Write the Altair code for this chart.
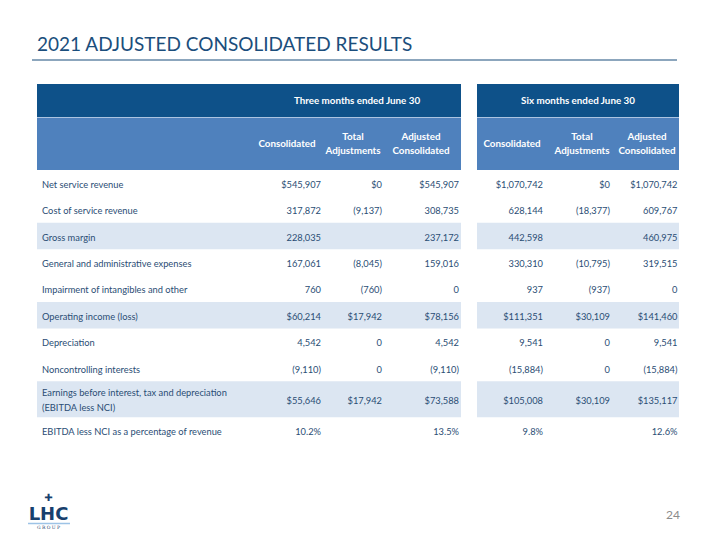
import altair as alt
import pandas as pd

# ---------------- data ----------------
title = "2021 ADJUSTED CONSOLIDATED RESULTS"
group_headers = ["Three months ended June 30", "Six months ended June 30"]
col_headers = ["Consolidated", "Total\nAdjustments", "Adjusted\nConsolidated",
               "Consolidated", "Total\nAdjustments", "Adjusted\nConsolidated"]

row_labels = [
    "Net service revenue",
    "Cost of service revenue",
    "Gross margin",
    "General and administrative expenses",
    "Impairment of intangibles and other",
    "Operating income (loss)",
    "Depreciation",
    "Noncontrolling interests",
    "Earnings before interest, tax and depreciation\n(EBITDA less NCI)",
    "EBITDA less NCI as a percentage of revenue",
]
shaded = [False, False, True, False, False, True, False, False, True, False]

three_consolidated = ["$545,907", "317,872", "228,035", "167,061", "760", "$60,214",
                      "4,542", "(9,110)", "$55,646", "10.2%"]
three_adjustments = ["$0", "(9,137)", "", "(8,045)", "(760)", "$17,942",
                     "0", "0", "$17,942", ""]
three_adjusted = ["$545,907", "308,735", "237,172", "159,016", "0", "$78,156",
                  "4,542", "(9,110)", "$73,588", "13.5%"]
six_consolidated = ["$1,070,742", "628,144", "442,598", "330,310", "937", "$111,351",
                    "9,541", "(15,884)", "$105,008", "9.8%"]
six_adjustments = ["$0", "(18,377)", "", "(10,795)", "(937)", "$30,109",
                   "0", "0", "$30,109", ""]
six_adjusted = ["$1,070,742", "609,767", "460,975", "319,515", "0", "$141,460",
                "9,541", "(15,884)", "$135,117", "12.6%"]

page_number = "24"

# ---------------- layout ----------------
DARK = "#0E5189"
MID = "#4F81BD"
SHADE = "#DCE6F2"
TXT = "#2A4D74"
FONT = "Lato"
BODY_SIZE = 9.3
HEAD_SIZE = 9.8

panels = [(37, 461), (477, 679)]
table_top, h1, h2 = 84, 33, 53
single_h, double_h = 26.4, 36
num_right = [321, 382, 459, 543, 610, 677.5]
head_center = [287, 353, 421, 512, 582, 647]
group_center = [357, 578]
label_x = 42
body_lh, head_lh = 14.5, 13.5

columns = [three_consolidated, three_adjustments, three_adjusted,
           six_consolidated, six_adjustments, six_adjusted]


def block_y(yc, text, lh):
    n = text.count("\n") + 1
    return yc - (n - 1) * lh / 2


# compute row positions
y = table_top + h1 + h2
rows = []
for i, lab in enumerate(row_labels):
    h = double_h if "\n" in lab else single_h
    rows.append(dict(y0=y, y1=y + h, yc=y + h / 2, shade=shaded[i]))
    y += h

rect_recs = []
for (px0, px1) in panels:
    rect_recs.append(dict(x0=px0, x1=px1, y0=table_top, y1=table_top + h1, c=DARK))
    rect_recs.append(dict(x0=px0, x1=px1, y0=table_top + h1 + 0.8, y1=table_top + h1 + h2, c=MID))
    rect_recs.append(dict(x0=px0, x1=px1, y0=table_top + h1, y1=table_top + h1 + 0.8, c="#9FBBDD"))
    for r in rows:
        if r["shade"]:
            rect_recs.append(dict(x0=px0, x1=px1, y0=r["y0"], y1=r["y1"], c=SHADE))
rect_df = pd.DataFrame(rect_recs)

cell_recs = []
for i, r in enumerate(rows):
    cell_recs.append(dict(x=label_x, y=block_y(r["yc"], row_labels[i], body_lh), t=row_labels[i], a="left"))
    for j, col in enumerate(columns):
        cell_recs.append(dict(x=num_right[j], y=r["yc"], t=col[i], a="right"))
cells = pd.DataFrame(cell_recs)

head_recs = [dict(x=group_center[k], y=table_top + h1 / 2, t=g) for k, g in enumerate(group_headers)]
for j, hname in enumerate(col_headers):
    yc = table_top + h1 + h2 / 2 + 0.5
    head_recs.append(dict(x=head_center[j], y=block_y(yc, hname, head_lh), t=hname))
heads = pd.DataFrame(head_recs)

xs = alt.Scale(domain=[8, 712], nice=False, zero=False)
ys = alt.Scale(domain=[8, 532], nice=False, zero=False, reverse=True)


def X(f):
    return alt.X(f, scale=xs, axis=None)


def Y(f):
    return alt.Y(f, scale=ys, axis=None)


base_rect = alt.Chart(rect_df).mark_rect(strokeWidth=0).encode(
    x=X("x0:Q"), x2="x1:Q", y=Y("y0:Q"), y2="y1:Q",
    color=alt.Color("c:N", scale=None),
)

left_cells = alt.Chart(cells[cells.a == "left"]).mark_text(
    align="left", baseline="middle", font=FONT, fontSize=BODY_SIZE, color=TXT,
    lineBreak="\n", lineHeight=body_lh, dy=1.5
).encode(x=X("x:Q"), y=Y("y:Q"), text="t:N")

right_cells = alt.Chart(cells[cells.a == "right"]).mark_text(
    align="right", baseline="middle", font=FONT, fontSize=BODY_SIZE, color=TXT, dy=1.5
).encode(x=X("x:Q"), y=Y("y:Q"), text="t:N")

head_text = alt.Chart(heads).mark_text(
    align="center", baseline="middle", font=FONT, fontSize=HEAD_SIZE, fontWeight="bold",
    color="white", lineBreak="\n", lineHeight=head_lh
).encode(x=X("x:Q"), y=Y("y:Q"), text="t:N")

title_df = pd.DataFrame([dict(x=37, y=45, t=title)])
title_text = alt.Chart(title_df).mark_text(
    align="left", baseline="middle", font=FONT, fontSize=19, color="#1B4E7C"
).encode(x=X("x:Q"), y=Y("y:Q"), text="t:N")

rule_df = pd.DataFrame([dict(x0=32, x1=677, y=60)])
title_rule = alt.Chart(rule_df).mark_rule(color="#1B4E7C", strokeWidth=1.2).encode(
    x=X("x0:Q"), x2="x1:Q", y=Y("y:Q"))

page_df = pd.DataFrame([dict(x=673, y=515, t=page_number)])
page_text = alt.Chart(page_df).mark_text(
    align="center", baseline="middle", font=FONT, fontSize=12, color="#8C8C8C"
).encode(x=X("x:Q"), y=Y("y:Q"), text="t:N")

# logo (text-based approximation)
logo_main_df = pd.DataFrame([dict(x=48.5, y=514.5, t="LHC")])
logo_main = alt.Chart(logo_main_df).mark_text(
    align="center", baseline="middle", font="DejaVu Sans", fontSize=18, fontWeight="bold", color="#17406D"
).encode(x=X("x:Q"), y=Y("y:Q"), text="t:N")
logo_cross_df = pd.DataFrame([dict(x=48.5, y=498, t="✚")])
logo_cross = alt.Chart(logo_cross_df).mark_text(
    align="center", baseline="middle", font="DejaVu Sans", fontSize=10, color="#17406D"
).encode(x=X("x:Q"), y=Y("y:Q"), text="t:N")
logo_sub_df = pd.DataFrame([dict(x=48.5, y=528, t="G R O U P")])
logo_sub = alt.Chart(logo_sub_df).mark_text(
    align="center", baseline="middle", font="DejaVu Serif", fontSize=4.5, color="#17406D"
).encode(x=X("x:Q"), y=Y("y:Q"), text="t:N")
logo_bar_df = pd.DataFrame([dict(x0=28, x1=70, y=523.5)])
logo_bar = alt.Chart(logo_bar_df).mark_rule(color="#9DC3E6", strokeWidth=1.5).encode(
    x=X("x0:Q"), x2="x1:Q", y=Y("y:Q"))

chart = alt.layer(
    base_rect, left_cells, right_cells, head_text, title_text, title_rule, page_text,
    logo_main, logo_cross, logo_sub, logo_bar
).properties(width=704, height=524, padding=0, autosize="none").configure_view(stroke=None)

chart.save("out.html", embed_options={"renderer": "svg", "actions": False})
